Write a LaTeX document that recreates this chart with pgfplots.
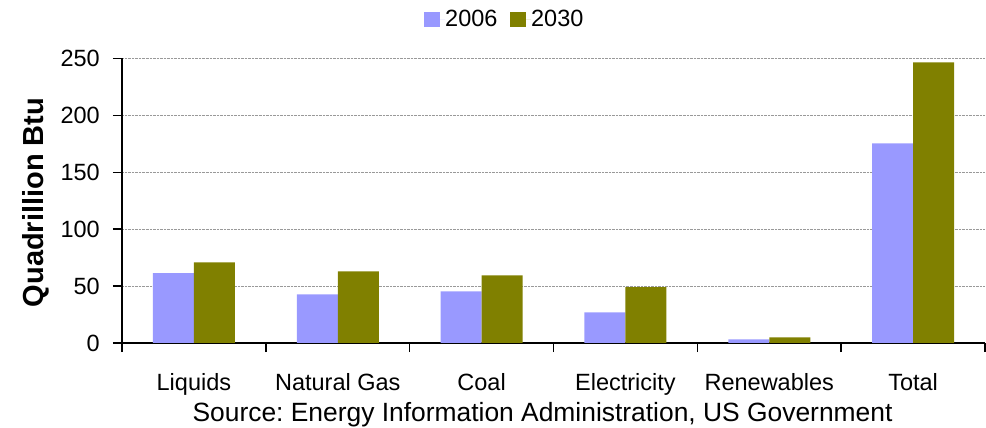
\documentclass[border=0pt]{standalone}
\usepackage{pgfplots}
\pgfplotsset{compat=1.18}
\usepackage{fontspec}
\setmainfont{Liberation Sans}
\frenchspacing
\definecolor{cA}{HTML}{9999FF}
\definecolor{cB}{HTML}{808000}
\newcommand{\tfont}{\fontsize{23.5bp}{28bp}\selectfont}
\begin{document}
\begin{tikzpicture}
\useasboundingbox (-122bp,-85bp) rectangle (864bp,343bp);
\begin{axis}[
  scale only axis,
  width=863bp, height=284.5bp,
  at={(0,0)}, anchor=south west,
  ybar=0pt, bar width=41bp,
  xmin=-0.5, xmax=5.5, ymin=0, ymax=250,
  axis lines*=left,
  axis line style={-, line width=2bp, black},
  xtick={-0.5,0.5,1.5,2.5,3.5,4.5,5.5},
  xticklabels={},
  extra x ticks={0,1,2,3,4,5},
  extra x tick labels={Liquids,Natural Gas,Coal,Electricity,Renewables,Total},
  extra x tick style={major tick length=0pt, grid=none,
     xticklabel style={anchor=base, yshift=-47bp, inner sep=0pt}},
  ytick={0,50,100,150,200,250},
  yticklabel style={anchor=east, inner sep=0pt, xshift=-13bp},
  tick align=outside,
  major tick length=9bp,
  tick style={black, line width=1.5bp},
  tick label style={font=\tfont},
  /pgf/number format/assume math mode=true,
  ymajorgrids,
  grid style={densely dotted, gray!80, line width=0.9bp},
  ylabel={\textbf{Quadrillion Btu}},
  ylabel style={font=\fontsize{29bp}{34bp}\selectfont, at={(axis description cs:-0.0915,0.494)}, anchor=base, rotate=0},
  legend columns=2,
  legend style={draw=none, fill=none, at={(axis description cs:0.4426,1.137)}, anchor=center,
     font=\tfont, inner sep=0pt, column sep=0pt,
     nodes={inner sep=0pt},
     /tikz/every even column/.append style={column sep=13bp}},
  legend image code/.code={\fill[#1,draw=none] (0bp,-7.85bp) rectangle (15.7bp,7.85bp);
     \path (0bp,0bp) -- (20.7bp,0bp);},
]
\addplot[fill=cA, draw=none] coordinates {(0,61.3) (1,42.8) (2,45.4) (3,27.0) (4,3.2) (5,175.5)};
\addplot[fill=cB, draw=none] coordinates {(0,70.9) (1,63.0) (2,59.5) (3,49.0) (4,5.0) (5,246.7)};
\legend{2006,2030}
\end{axis}
\node[anchor=base, font=\fontsize{26.4bp}{30bp}\selectfont, inner sep=0pt] at (420.5bp,-78bp) {Source: Energy Information Administration, US Government};
\end{tikzpicture}
\end{document}
